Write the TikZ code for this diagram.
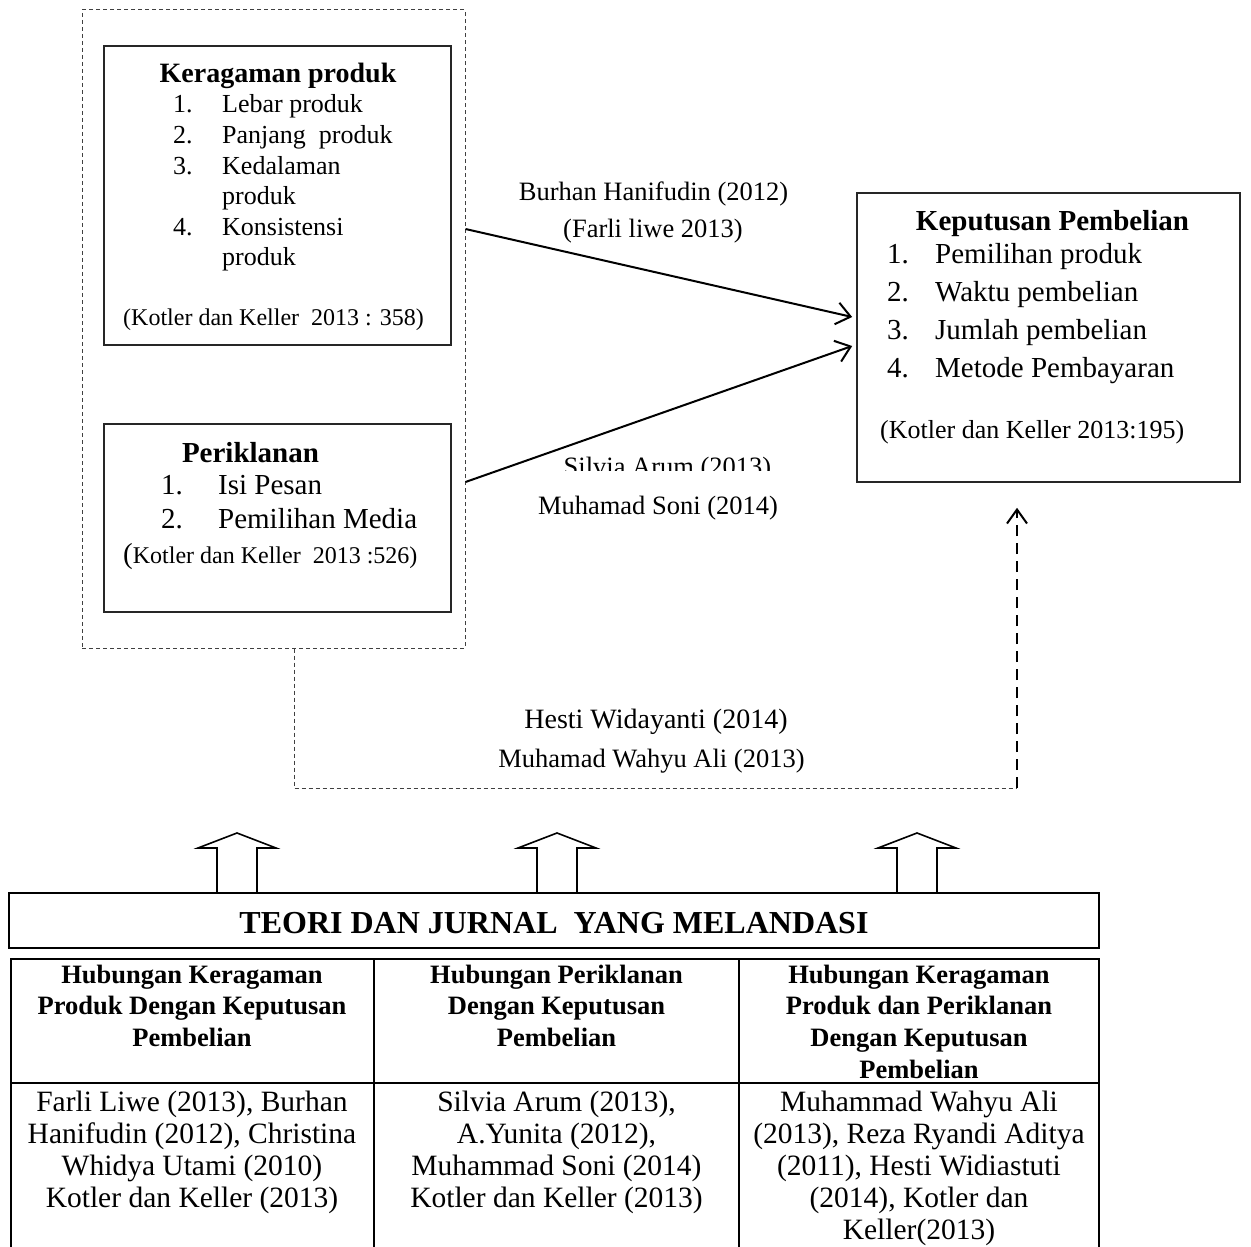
\documentclass[tikz,border=0pt]{standalone}
\usepackage{fontspec}
\setmainfont{Liberation Serif}
\usepackage{tikz}
\usetikzlibrary{arrows.meta}
\newcommand{\ukuran}[2]{\fontsize{#1}{#2}\selectfont}

\begin{document}
\begin{tikzpicture}[x=1pt,y=-1pt,
        kotak/.style={draw=black!85, line width=1.6pt, inner sep=0pt},
        teks/.style={anchor=base, inner sep=0pt},
        butir/.style={anchor=base west, inner sep=0pt},
        panah/.style={line width=2pt, -{Straight Barb[length=14pt,width=22pt]}},
        putus/.style={draw=black!75, line width=1pt, dash pattern=on 4pt off 3pt},
        blok/.style={line width=1.6pt, line join=miter}]
        \useasboundingbox (0,0) rectangle (1251,1247);

        \node[putus, minimum width=383pt, minimum height=638pt] (luar) at (273.5,329) {};
        \node[kotak, minimum width=347pt, minimum height=299pt] (krg) at (277.5,195.5) {};
        \node[kotak, minimum width=347pt, minimum height=188pt] (prk) at (277.5,518) {};
        \node[kotak, minimum width=383pt, minimum height=289pt] (kpt) at (1048.5,337.5) {};

        \node[teks] (krgjudul) at (278,83) {\ukuran{28}{30}\bfseries Keragaman produk};
        \node[butir] (krgbutir) at (173,113) {\ukuran{26}{30.6}%
            \begin{tabular}[t]{@{}p{49pt}@{}l@{}}
                1. & Lebar produk \\
                2. & Panjang~ produk \\
                3. & Kedalaman \\
                   & produk \\
                4. & Konsistensi \\
                   & produk
            \end{tabular}};
        \node[teks] (krgsumber) at (273.5,325) {\ukuran{24}{28}(Kotler dan Keller~ 2013 : 358)};

        \node[teks] (prkjudul) at (250.5,462) {\ukuran{29}{32}\bfseries Periklanan};
        \node[butir] (prkbutir) at (161,494) {\ukuran{29}{34}%
            \begin{tabular}[t]{@{}p{57pt}@{}l@{}}
                1. & Isi Pesan \\
                2. & Pemilihan Media
            \end{tabular}};
        \node[butir] (prksumber) at (123,563) {\ukuran{29}{32}(\ukuran{24}{28}Kotler dan Keller~ 2013 :526)};

        \node[teks] (kptjudul) at (1052.5,230) {\ukuran{29}{32}\bfseries Keputusan Pembelian};
        \node[butir] (kptbutir) at (887,263) {\ukuran{29}{38.3}%
            \begin{tabular}[t]{@{}p{48pt}@{}l@{}}
                1. & Pemilihan produk \\
                2. & Waktu pembelian \\
                3. & Jumlah pembelian \\
                4. & Metode Pembayaran
            \end{tabular}};
        \node[butir] (kptsumber) at (880,438) {\ukuran{26}{30}(Kotler dan Keller 2013:195)};

        \draw[panah] ([yshift=100pt]luar.east) -- ([xshift=-4pt,yshift=20.5pt]kpt.west);
        \draw[panah] ([yshift=-153pt]luar.east) -- ([xshift=-4pt,yshift=-8.5pt]kpt.west);

        \node[teks] (ref1) at (653.5,200) {\ukuran{26.5}{30}Burhan Hanifudin (2012)};
        \node[teks] (ref2) at (653,237) {\ukuran{26.5}{30}(Farli liwe 2013)};
        \begin{scope}
            \clip (520,440) rectangle (820,470);
            \node[teks] (ref3) at (667.5,475) {\ukuran{26.5}{30}Silvia Arum (2013)};
        \end{scope}
        \node[teks] (ref4) at (658,514) {\ukuran{26.5}{30}Muhamad Soni (2014)};
        \node[teks] (ref5) at (656,728) {\ukuran{28}{30}Hesti Widayanti (2014)};
        \node[teks] (ref6) at (651.5,767) {\ukuran{26.5}{30}Muhamad Wahyu Ali (2013)};

        \coordinate (sudut) at (1017,788);
        \draw[putus] ([xshift=20.5pt]luar.south) |- (sudut);
        \draw[line width=2pt, dash pattern=on 11pt off 7pt, -{Straight Barb[length=14pt,width=20pt]}]
            (sudut) -- ([xshift=-31.5pt,yshift=-25pt]kpt.south);

        \node[draw, line width=2.5pt, minimum width=1090pt, minimum height=55pt,
            text height=25pt, text depth=0pt] (teori) at (554,920.5)
            {\ukuran{32}{34}\bfseries TEORI DAN JURNAL~ YANG MELANDASI};

        \foreach \x in {237,557,917}
            \draw[blok] (\x-20,892) -- (\x-20,848) -- (\x-39,848) -- (\x,833)
                -- (\x+39,848) -- (\x+20,848) -- (\x+20,892);

        \draw[line width=2.5pt] (11,1300) -- (11,959) -- (1099,959) -- (1099,1300);
        \draw[line width=2pt] (11,1083) -- (1099,1083);
        \draw[line width=2pt] (374,959) -- (374,1300);
        \draw[line width=2pt] (739,959) -- (739,1300);

        \node[teks] (kol1) at (192,983) {\ukuran{26.5}{31.7}\bfseries
            \begin{tabular}[t]{@{}c@{}}
                Hubungan Keragaman \\ Produk Dengan Keputusan \\ Pembelian
            \end{tabular}};
        \node[teks] (kol2) at (556.5,983) {\ukuran{26.5}{31.7}\bfseries
            \begin{tabular}[t]{@{}c@{}}
                Hubungan Periklanan \\ Dengan Keputusan \\ Pembelian
            \end{tabular}};
        \node[teks] (kol3) at (919,983) {\ukuran{26.5}{31.7}\bfseries
            \begin{tabular}[t]{@{}c@{}}
                Hubungan Keragaman \\ Produk dan Periklanan \\ Dengan Keputusan \\ Pembelian
            \end{tabular}};

        \node[teks] (isi1) at (192,1111) {\ukuran{29.5}{32.2}%
            \begin{tabular}[t]{@{}c@{}}
                Farli Liwe (2013), Burhan \\ Hanifudin (2012), Christina \\
                Whidya Utami (2010) \\ Kotler dan Keller (2013)
            \end{tabular}};
        \node[teks] (isi2) at (556.5,1111) {\ukuran{29.5}{32.2}%
            \begin{tabular}[t]{@{}c@{}}
                Silvia Arum (2013), \\ A.Yunita (2012), \\
                Muhammad Soni (2014) \\ Kotler dan Keller (2013)
            \end{tabular}};
        \node[teks] (isi3) at (919,1111) {\ukuran{29.5}{32.2}%
            \begin{tabular}[t]{@{}c@{}}
                Muhammad Wahyu Ali \\ (2013), Reza Ryandi Aditya \\
                (2011), Hesti Widiastuti \\ (2014), Kotler dan \\ Keller(2013)
            \end{tabular}};
\end{tikzpicture}
\end{document}
